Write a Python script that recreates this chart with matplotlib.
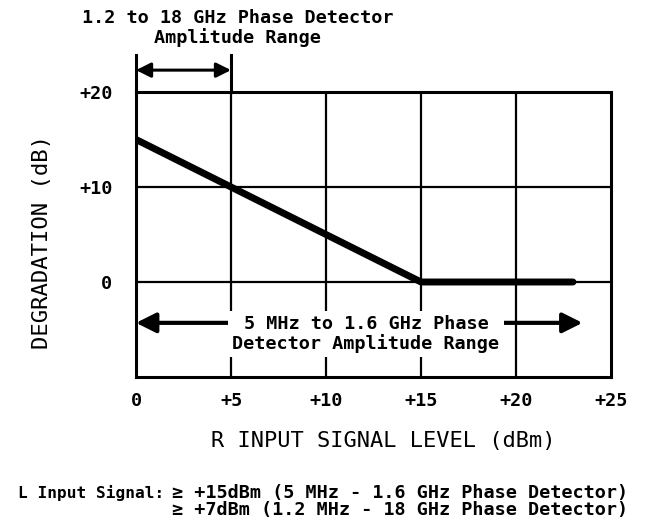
import matplotlib
matplotlib.use("Agg")
import matplotlib.pyplot as plt

# degradation curve
r_level = [0, 15, 23]
degradation = [15, 0, 0]

x_ticks = [0, 5, 10, 15, 20, 25]
x_labels = ['0', '+5', '+10', '+15', '+20', '+25']
y_ticks = [0, 10, 20]
y_labels = ['0', '+10', '+20']

# amplitude ranges (dBm)
narrow_range = [0, 5]
wide_range = [0, 23.5]

MONO = 'DejaVu Sans Mono'
FS = 13.3

fig = plt.figure(figsize=(6.52, 5.25), dpi=100)
ax = fig.add_axes([0.2086, 0.2819, 0.7285, 0.5429])
ax.set_xlim(0, 25)
ax.set_ylim(-10, 20)

for s in ax.spines.values():
    s.set_linewidth(2.2)
for xv in x_ticks[1:-1]:
    ax.axvline(xv, color='black', lw=1.6, zorder=1)
for yv in y_ticks[:-1]:
    ax.axhline(yv, color='black', lw=1.6, zorder=1)

ax.set_xticks(x_ticks)
ax.set_xticklabels(x_labels, fontsize=FS, fontweight='bold', family=MONO)
ax.set_yticks(y_ticks)
ax.set_yticklabels(y_labels, fontsize=FS, fontweight='bold', family=MONO)
ax.tick_params(axis='x', length=0, pad=11)
ax.tick_params(axis='y', length=0, pad=17)

ax.plot(r_level, degradation, color='black', lw=5, solid_capstyle='round', zorder=3)

# 1.2 to 18 GHz bracket above the plot
for xv in narrow_range:
    ax.plot([xv, xv], [20, 23.9], color='black', lw=2.2, clip_on=False)
ax.annotate('', xy=(narrow_range[1], 22.3), xytext=(narrow_range[0], 22.3),
            arrowprops=dict(arrowstyle='<|-|>', color='black', lw=2.2,
                            mutation_scale=22, shrinkA=0, shrinkB=0),
            annotation_clip=False)
ax.text(5.35, 26.75, '1.2 to 18 GHz Phase Detector\nAmplitude Range', ha='center', va='center',
        fontsize=FS, fontweight='bold', family=MONO, linespacing=1.05)

# 5 MHz to 1.6 GHz range arrow
ax.annotate('', xy=(wide_range[1], -4.3), xytext=(wide_range[0], -4.3),
            arrowprops=dict(arrowstyle='<|-|>', color='black', lw=3,
                            mutation_scale=30, shrinkA=0, shrinkB=0),
            zorder=2)
ax.text(12.1, -5.5, '5 MHz to 1.6 GHz Phase\nDetector Amplitude Range', ha='center', va='center',
        fontsize=FS, fontweight='bold', family=MONO, linespacing=1.05, zorder=4,
        bbox=dict(facecolor='white', edgecolor='none', pad=3))

ax.set_ylabel('DEGRADATION (dB)', fontsize=16, family=MONO)
ax.yaxis.set_label_coords(-0.198, 0.474)
ax.yaxis.label.set_va('center')
ax.set_xlabel('R INPUT SIGNAL LEVEL (dBm)', fontsize=15.8, family=MONO)
ax.xaxis.set_label_coords(0.52, -0.2246)
ax.xaxis.label.set_va('center')

fig.text(18 / 652, 1 - 493 / 525, 'L Input Signal:', fontsize=11.6, fontweight='bold',
         family=MONO, ha='left', va='center')
fig.text(172 / 652, 1 - 493 / 525, '\u2265 +15dBm (5 MHz - 1.6 GHz Phase Detector)',
         fontsize=FS, fontweight='bold', family=MONO, ha='left', va='center')
fig.text(172 / 652, 1 - 510 / 525, '\u2265 +7dBm (1.2 MHz - 18 GHz Phase Detector)',
         fontsize=FS, fontweight='bold', family=MONO, ha='left', va='center')

fig.savefig('out.png', dpi=100)
